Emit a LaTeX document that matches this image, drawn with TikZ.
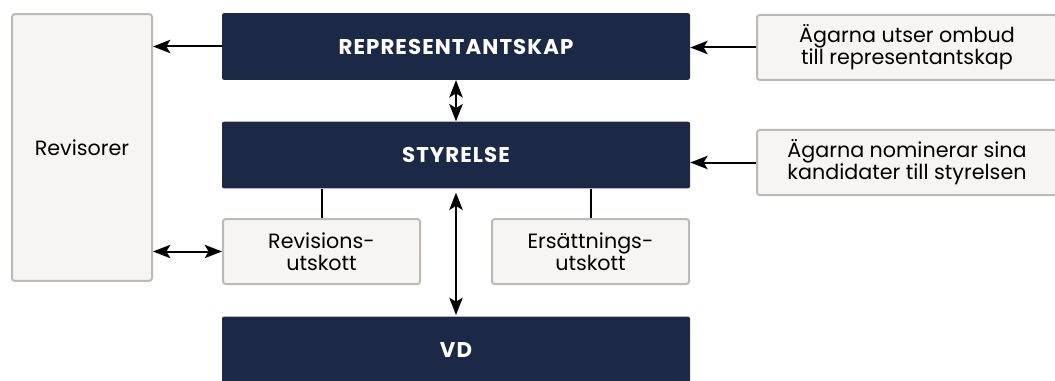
\documentclass[tikz,border=0pt]{standalone}
\usepackage{fontspec}
\setmainfont{Poppins}
\usepackage{xcolor}
\usetikzlibrary{arrows.meta, positioning}
\definecolor{navy}{HTML}{1B2947}
\definecolor{boxfill}{HTML}{F6F5F3}
\definecolor{boxline}{HTML}{BDBAB5}

\begin{document}
\begin{tikzpicture}[x=0.75pt, y=-0.75pt,
  darkbox/.style={fill=navy, rounded corners=1.5pt, inner sep=0pt, minimum width=351pt, minimum height=50pt, text=white, font=\fontsize{16}{16.5}\selectfont\bfseries\addfontfeatures{LetterSpace=5}},
  lightbox/.style={fill=boxfill, draw=boxline, line width=1.5pt, rounded corners=2pt, inner sep=0pt, align=center, font=\fontsize{15.5}{16.5}\selectfont},
  arr/.style={line width=1.5pt, -{Stealth[length=13pt, width=10pt, inset=3pt]}},
  dblarr/.style={line width=1.5pt, {Stealth[length=13pt, width=10pt, inset=3pt]}-{Stealth[length=13pt, width=10pt, inset=3pt]}}]
\useasboundingbox (0,0) rectangle (1055,381);

% main bodies
\node[darkbox] (repr) at (456,46.5) {REPRESENTANTSKAP};
\node[darkbox] (styr) at (456,155) {STYRELSE};
\node[darkbox] (vd) at (456,350) {VD};

% side boxes
\node[lightbox, minimum width=105pt, minimum height=200pt] (revisorer) at (82,147.5) {Revisorer};
\node[lightbox, minimum width=147.75pt, minimum height=48.75pt] (revu) at (321.5,251.5) {Revisions-\\utskott};
\node[lightbox, minimum width=147.75pt, minimum height=48.75pt] (ersu) at (590.5,251.5) {Ersättnings-\\utskott};
\node[lightbox, minimum width=225pt, minimum height=48.75pt] (agar1) at (907,47.5) {Ägarna utser ombud\\till representantskap};
\node[lightbox, minimum width=225pt, minimum height=48.75pt] (agar2) at (907,162.5) {Ägarna nominerar sina\\kandidater till styrelsen};

% connectors
\draw[arr] (repr.west) -- (repr.west -| revisorer.east);
\draw[arr] (agar1.west) -- (agar1.west -| repr.east);
\draw[arr] (agar2.west) -- (agar2.west -| styr.east);
\draw[dblarr] (repr.south) -- (styr.north);
\draw[dblarr, shorten <=3pt, shorten >=1pt] (styr.south) -- (vd.north);
\draw[dblarr] (revu.west) -- (revu.west -| revisorer.east);
\draw[line width=1.5pt] (revu.north) -- (revu.north |- styr.south);
\draw[line width=1.5pt] (ersu.north) -- (ersu.north |- styr.south);
\end{tikzpicture}
\end{document}
